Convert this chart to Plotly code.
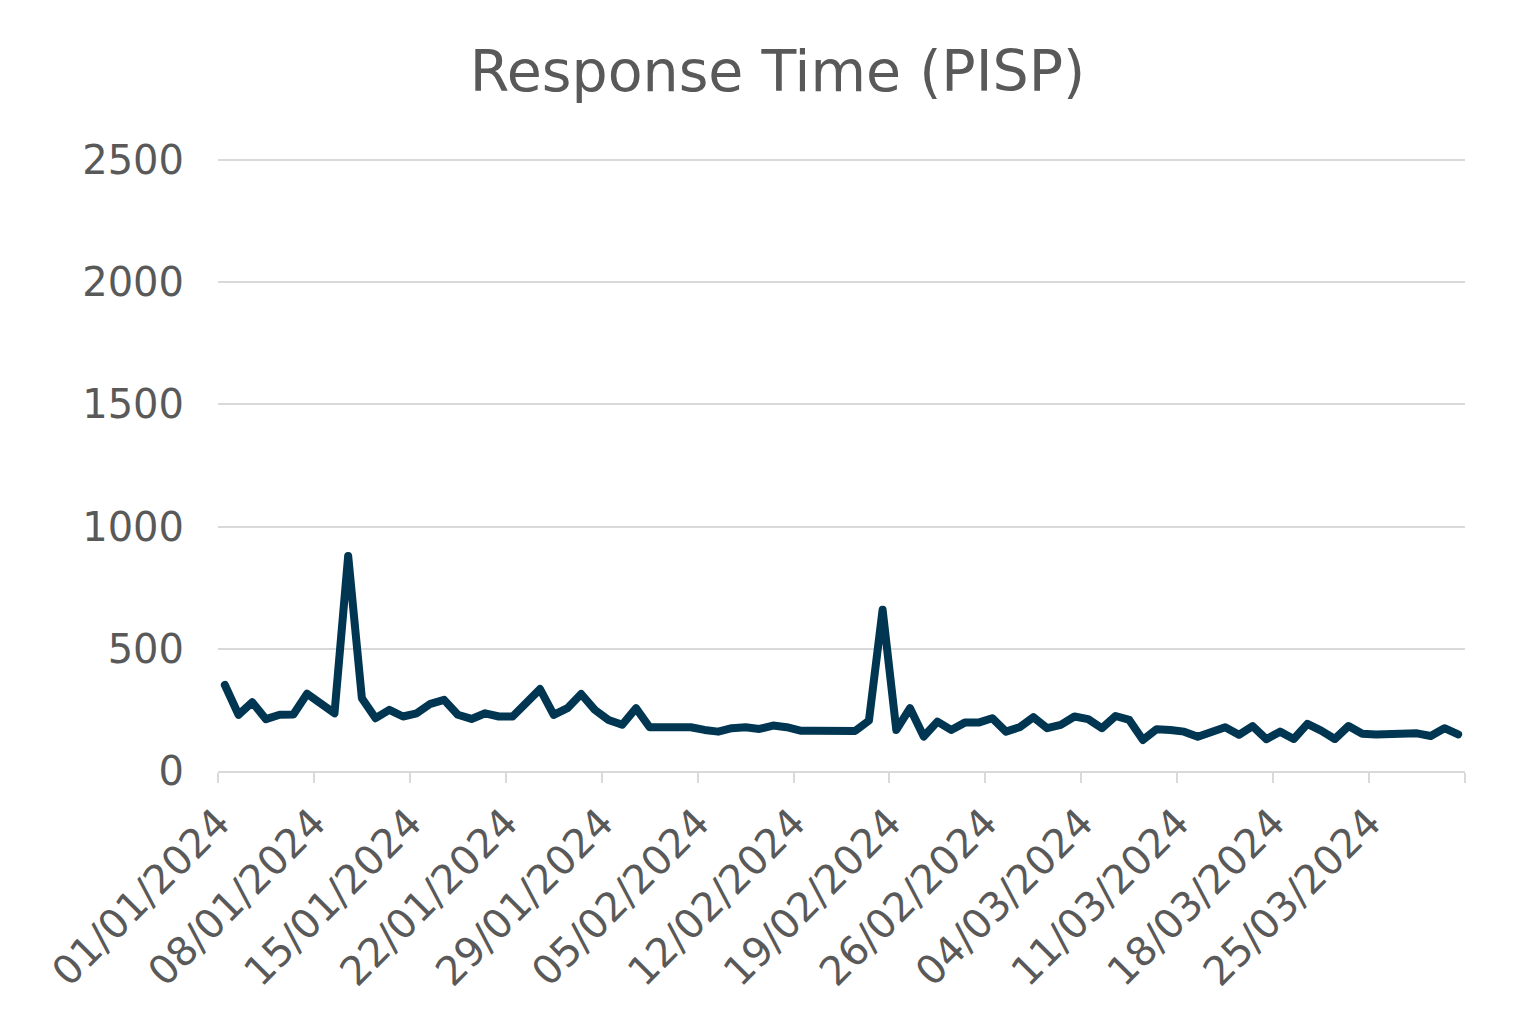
import pandas as pd
import plotly.graph_objects as go

dates = pd.date_range("2024-01-01", "2024-03-31", freq="D")
response_ms = [352, 230, 281, 212, 230, 231, 316, 277, 236, 880,
               298, 216, 250, 223, 236, 275, 291, 230, 213, 236,
               223, 223, 277, 335, 230, 257, 315, 250, 209, 189,
               257, 179, 179, 179, 179, 168, 161, 175, 179, 172,
               186, 179, 165, 165, 165, 165, 164, 206, 660, 168,
               257, 141, 202, 168, 198, 198, 216, 161, 179, 220,
               175, 189, 223, 212, 175, 225, 209, 127, 171, 168,
               161, 140, 157, 179, 148, 184, 130, 161, 131, 193,
               165, 131, 184, 152, 149, 148, 148, 154, 143, 175,
               150]
tick_labels = ["01/01/2024", "08/01/2024", "15/01/2024", "22/01/2024",
               "29/01/2024", "05/02/2024", "12/02/2024", "19/02/2024",
               "26/02/2024", "04/03/2024", "11/03/2024", "18/03/2024",
               "25/03/2024", ""]
y_ticks = [0, 500, 1000, 1500, 2000, 2500]

x_idx = list(range(len(dates)))
tick_pos = [i * 7 - 0.5 for i in range(len(tick_labels) - 1)] + [len(dates) - 0.5]

TEXT = "#595959"
GRID = "#d9d9d9"
FONT = "DejaVu Sans"

fig = go.Figure()
fig.add_trace(go.Scatter(
    x=x_idx, y=response_ms, mode="lines",
    line=dict(color="#003651", width=8),
    customdata=[d.strftime("%d/%m/%Y") for d in dates],
    hovertemplate="%{customdata}: %{y}<extra></extra>",
    showlegend=False,
))

fig.update_layout(
    width=1539, height=1032,
    paper_bgcolor="white", plot_bgcolor="white",
    margin=dict(l=210, r=82, t=147, b=269),
    title=dict(text="Response Time (PISP)", x=0.5, xanchor="center",
               y=1 - 63 / 1032, yanchor="middle", yref="container",
               font=dict(family=FONT, size=57, color=TEXT)),
    font=dict(family=FONT, color=TEXT),
)
fig.update_xaxes(
    range=[-0.5, len(dates) - 0.5],
    tickmode="array", tickvals=tick_pos, ticktext=tick_labels,
    tickangle=-45, tickfont=dict(family=FONT, size=40, color=TEXT),
    showgrid=False, zeroline=False,
    showline=True, linecolor=GRID, linewidth=2,
    ticks="outside", ticklen=10, tickcolor=GRID, tickwidth=2,
)
fig.update_yaxes(
    range=[0, 2520], tickmode="array", tickvals=y_ticks,
    tickfont=dict(family=FONT, size=40, color=TEXT),
    showgrid=True, gridcolor=GRID, gridwidth=2,
    zeroline=False, showline=False, ticks="",
    ticklabelstandoff=33,
)

fig.write_html(
    "out.html",
    post_script="document.querySelectorAll('.js-line').forEach(function(e){"
                "e.style.strokeLinejoin='round';e.style.strokeLinecap='round';});",
)
